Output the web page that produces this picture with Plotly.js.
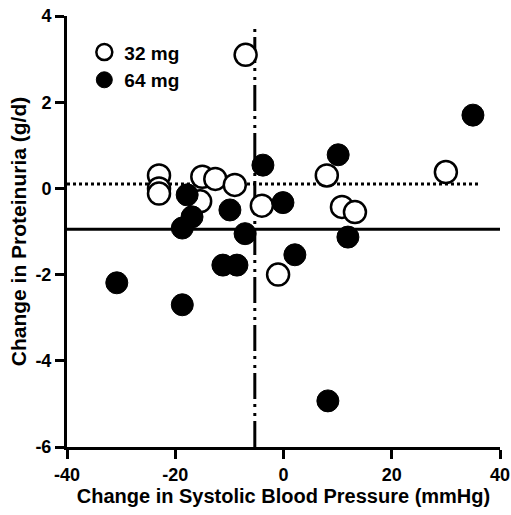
<!DOCTYPE html>
<html>
<head>
<meta charset="utf-8">
<script src="https://cdn.plot.ly/plotly-3.0.1.min.js"></script>
<style>html,body{margin:0;padding:0;background:#fff;}#chart{width:511px;height:515px;}</style>
</head>
<body>
<div id="chart"></div>
<script>
// Data
const seriesNames = ["32 mg", "64 mg"];
const x32 = [-7, -23, -23, -23, -15, -12.6, -9, -15.4, -4, -1, 8, 10.8, 13.2, 30];
const y32 = [3.1, 0.3, 0.0, -0.12, 0.27, 0.22, 0.08, -0.3, -0.4, -2.0, 0.3, -0.43, -0.55, 0.38];
const x64 = [35, 10.1, -3.8, -0.1, -17.8, -16.9, -18.7, -9.9, -7.1, 11.9, 2.1, -11.2, -8.6, -30.8, -18.7, 8.2];
const y64 = [1.7, 0.78, 0.54, -0.33, -0.15, -0.66, -0.92, -0.5, -1.05, -1.13, -1.54, -1.78, -1.78, -2.19, -2.7, -4.93];
const xRange = [-40, 40];
const yRange = [-6, 4];
const xTicks = [-40, -20, 0, 20, 40];
const yTicks = [-6, -4, -2, 0, 2, 4];
const solidLineX = [-40, 40];
const solidLineY = -0.95;   // mean change in proteinuria
const dottedLineX = [-40, 36];
const dottedLineY = 0.1;
const dashDotLineX = -5.3;  // mean change in SBP
const dashDotLineY = [-6, 3.8];

const fam = "Liberation Sans, Arial, sans-serif";
const xTitleFont = {family: fam, size: 20, color: "#000", weight: "bold"};
const yTitleFont = {family: fam, size: 21, color: "#000", weight: "bold"};
const tickFont = {family: fam, size: 18, color: "#000", weight: "bold"};

const traces = [
  {x: solidLineX, y: [solidLineY, solidLineY], mode: "lines", line: {color: "#000", width: 3}, showlegend: false, hoverinfo: "skip"},
  {x: dottedLineX, y: [dottedLineY, dottedLineY], mode: "lines", line: {color: "#000", width: 3, dash: "3px,3px"}, showlegend: false, hoverinfo: "skip"},
  {x: [dashDotLineX, dashDotLineX], y: dashDotLineY, mode: "lines", line: {color: "#000", width: 3, dash: "26px,5px,3px,6px,3px,5px"}, showlegend: false, hoverinfo: "skip"},
  {x: x32, y: y32, name: seriesNames[0], mode: "markers", legendrank: 1,
   marker: {symbol: "circle", size: 22, color: "#fff", line: {color: "#000", width: 2.5}}},
  {x: x64, y: y64, name: seriesNames[1], mode: "markers", legendrank: 2,
   marker: {symbol: "circle", size: 22, color: "#000", line: {color: "#000", width: 1}}}
];

const axisCommon = {
  showgrid: false, zeroline: false, showline: true, linecolor: "#000", linewidth: 3,
  ticks: "outside", ticklen: 9, tickwidth: 3, tickcolor: "#000",
  tickfont: tickFont, tickmode: "array", fixedrange: true
};

const layout = {
  width: 511, height: 515,
  margin: {l: 67, r: 11, t: 16, b: 68},
  paper_bgcolor: "#fff", plot_bgcolor: "#fff",
  font: tickFont,
  showlegend: true,
  legend: {x: 0.04, y: 0.96, xanchor: "left", yanchor: "top", bgcolor: "rgba(0,0,0,0)",
           font: {family: fam, size: 19, color: "#000", weight: "bold"}, itemwidth: 30, tracegroupgap: 0},
  xaxis: Object.assign({}, axisCommon, {range: xRange, tickvals: xTicks, ticktext: xTicks.map(String),
    title: {text: "Change in Systolic Blood Pressure (mmHg)", font: xTitleFont, standoff: 6}}),
  yaxis: Object.assign({}, axisCommon, {range: yRange, tickvals: yTicks, ticktext: yTicks.map(String),
    title: {text: "Change in Proteinuria (g/d)", font: yTitleFont, standoff: 4}})
};

Plotly.newPlot("chart", traces, layout, {displayModeBar: false, staticPlot: true});
</script>
</body>
</html>
